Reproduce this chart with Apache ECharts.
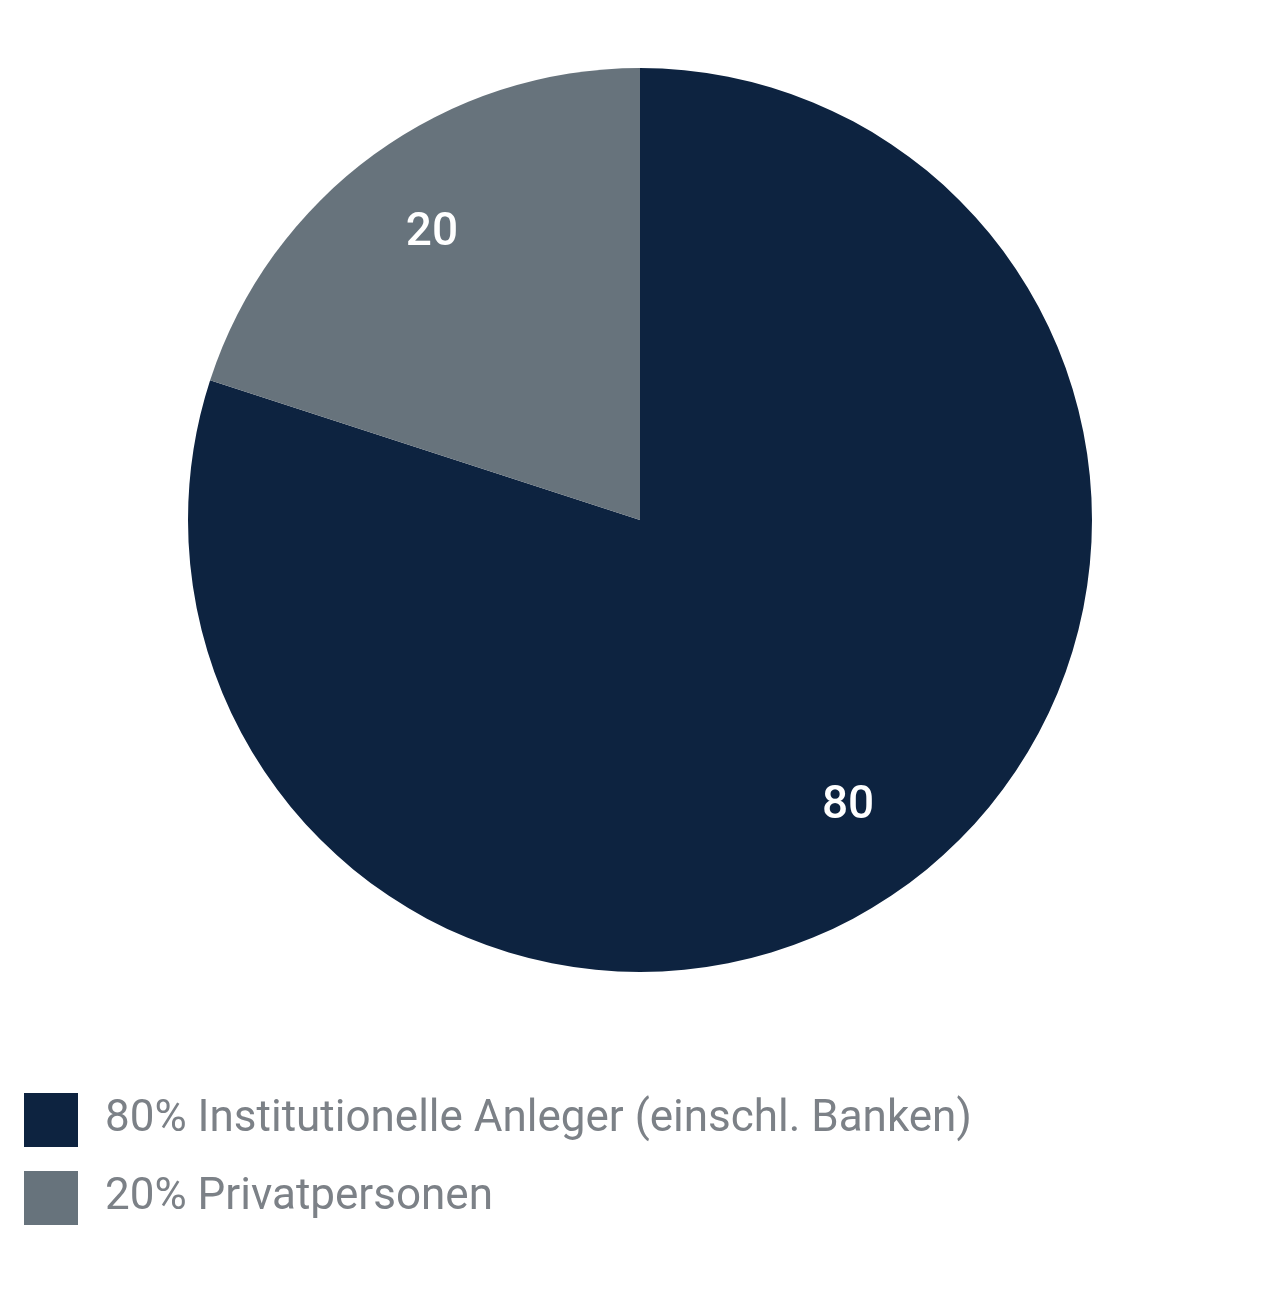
<!DOCTYPE html>
<html><head><meta charset="utf-8">
<script src="https://cdn.jsdelivr.net/npm/echarts@6/dist/echarts.min.js"></script>
<style>html,body{margin:0;padding:0;background:#fff}#c{width:1280px;height:1309px}</style>
</head><body><div id="c"></div>
<script>
const categories = ["Institutionelle Anleger (einschl. Banken)", "Privatpersonen"];
const values = [80, 20];
const colors = ["#0d2340", "#67737c"];
const data = categories.map((n, i) => ({ name: n, value: values[i], itemStyle: { color: colors[i] } }));
const chart = echarts.init(document.getElementById('c'));
chart.setOption({
  animation: false,
  legend: {
    orient: 'vertical', left: 19, top: 1088, itemWidth: 54, itemHeight: 54, itemGap: 24,
    icon: 'rect', data: categories,
    formatter: n => values[categories.indexOf(n)] + '% ' + n,
    textStyle: { fontSize: 44, color: '#7c8187', fontFamily: 'Roboto', padding: [0, 0, 0, 22] }
  },
  series: [
    { type: 'pie', center: [640, 520], radius: [0, 452], startAngle: 90, clockwise: true,
      label: { show: false }, labelLine: { show: false }, data: data, silent: true },
    { type: 'pie', center: [640, 520], radius: [250, 452], startAngle: 90, clockwise: true,
      silent: true, legendHoverLink: false,
      itemStyle: { color: 'transparent' },
      label: { show: true, position: 'inside', formatter: '{c}', color: '#fff', fontSize: 46, fontWeight: 500, fontFamily: 'Roboto' },
      labelLine: { show: false },
      data: categories.map((n, i) => ({ name: n + ' ', value: values[i], itemStyle: { color: 'rgba(0,0,0,0)' } })) }
  ]
});
</script></body></html>
